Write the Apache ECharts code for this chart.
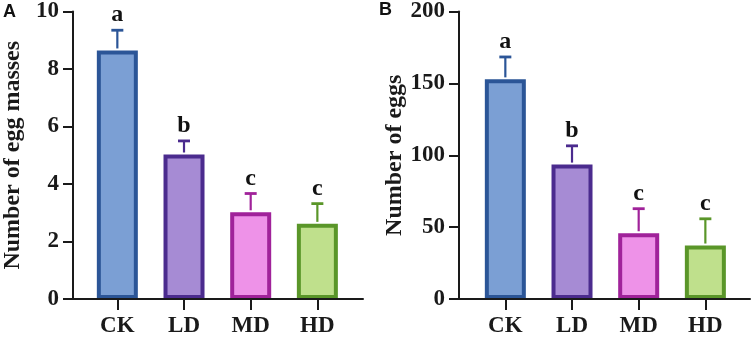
<!DOCTYPE html>
<html>
<head>
<meta charset="utf-8">
<script src="https://cdn.jsdelivr.net/npm/echarts@6/dist/echarts.min.js"></script>
<style>
  html, body { margin: 0; padding: 0; background: #fff; }
  #chart { width: 754px; height: 339px; }
</style>
</head>
<body>
<div id="chart"></div>
<script>
// data
const groups = ['CK', 'LD', 'MD', 'HD']
const massMean = [8.6, 5.0, 3.0, 2.6]
const massSd = [0.7, 0.47, 0.65, 0.7]
const eggMean = [152, 93, 45.5, 37]
const eggSd = [15.5, 13, 17, 18.5]
const letters = ['a', 'b', 'c', 'c']

const fills = ['#7b9fd4', '#a68bd4', '#ee92e8', '#bfe08c']
const borders = ['#2b5597', '#4b2b8e', '#a0229a', '#5a9629']

const serif = 'Liberation Serif'
const ink = '#1a1a1a'

const chart = echarts.init(document.getElementById('chart'))

const gridTop = 10
const gridHeight = 289

// grid 0/2 carry the long axis lines + y axis, grid 1/3 carry the bars
const grids = [
  { left: 71, top: gridTop, width: 292, height: gridHeight },
  { left: 84, top: gridTop, width: 266.7, height: gridHeight },
  { left: 459, top: gridTop, width: 291, height: gridHeight },
  { left: 472, top: gridTop, width: 266.7, height: gridHeight }
]

function lineAxis (gridIndex) {
  return {
    type: 'value', gridIndex: gridIndex, min: 0, max: 1, z: 5,
    axisLine: { show: true, lineStyle: { color: ink, width: 2 } },
    axisTick: { show: false }, axisLabel: { show: false }, splitLine: { show: false }
  }
}

function catAxis (gridIndex) {
  return {
    type: 'category', gridIndex: gridIndex, data: groups, z: 5,
    axisLine: { show: false },
    axisTick: { show: true, alignWithLabel: true, length: 11, lineStyle: { color: ink, width: 2 } },
    axisLabel: { margin: 16, color: ink, fontFamily: serif, fontWeight: 'bold', fontSize: 23 }
  }
}

function yAxis (gridIndex, max, interval, name, show) {
  return {
    type: 'value', gridIndex: gridIndex, min: 0, max: max, interval: interval, z: 5,
    show: show,
    name: name, nameLocation: 'middle', nameGap: 48,
    nameTextStyle: { color: ink, fontFamily: serif, fontWeight: 'bold', fontSize: 24 },
    axisLine: { show: true, lineStyle: { color: ink, width: 2 } },
    axisTick: { show: true, length: 10, lineStyle: { color: ink, width: 2 } },
    axisLabel: { margin: 14, color: ink, fontFamily: serif, fontWeight: 'bold', fontSize: 23 },
    splitLine: { show: false }
  }
}

function barSeries (axisIndex, values) {
  return {
    type: 'bar', xAxisIndex: axisIndex, yAxisIndex: axisIndex,
    barWidth: 41,
    data: values.map((v, i) => ({
      value: v,
      itemStyle: { color: fills[i], borderColor: borders[i], borderWidth: 4 }
    }))
  }
}

function errorSeries (axisIndex, means, sds) {
  return {
    type: 'custom', xAxisIndex: axisIndex, yAxisIndex: axisIndex, z: 3,
    data: means.map((m, i) => [i, m, m + sds[i]]),
    renderItem: function (params, api) {
      const i = params.dataIndex
      const base = api.coord([api.value(0), api.value(1)])
      const tip = api.coord([api.value(0), api.value(2)])
      const c = borders[i]
      return {
        type: 'group',
        children: [
          { type: 'line', shape: { x1: base[0], y1: base[1] - 2, x2: tip[0], y2: tip[1] }, style: { stroke: c, lineWidth: 2.2 } },
          { type: 'line', shape: { x1: tip[0] - 6, y1: tip[1], x2: tip[0] + 6, y2: tip[1] }, style: { stroke: c, lineWidth: 2.8 } },
          {
            type: 'text',
            x: tip[0], y: tip[1] - 3,
            style: {
              text: letters[i], fill: '#111', font: 'bold 24px "Liberation Serif"',
              align: 'center', verticalAlign: 'bottom'
            }
          }
        ]
      }
    }
  }
}

const option = {
  animation: false,
  grid: grids,
  xAxis: [lineAxis(0), catAxis(1), lineAxis(2), catAxis(3)],
  yAxis: [
    yAxis(0, 10, 2, 'Number of egg masses', true),
    yAxis(1, 10, 2, '', false),
    yAxis(2, 200, 50, 'Number of eggs', true),
    yAxis(3, 200, 50, '', false)
  ],
  graphic: [
    { type: 'text', left: 3, top: 3, style: { text: 'A', fill: '#111', font: 'bold 18px "Liberation Sans"' } },
    { type: 'text', left: 379, top: 1, style: { text: 'B', fill: '#111', font: 'bold 18px "Liberation Sans"' } }
  ],
  series: [
    barSeries(1, massMean),
    errorSeries(1, massMean, massSd),
    barSeries(3, eggMean),
    errorSeries(3, eggMean, eggSd)
  ]
}

chart.setOption(option)
</script>
</body>
</html>
